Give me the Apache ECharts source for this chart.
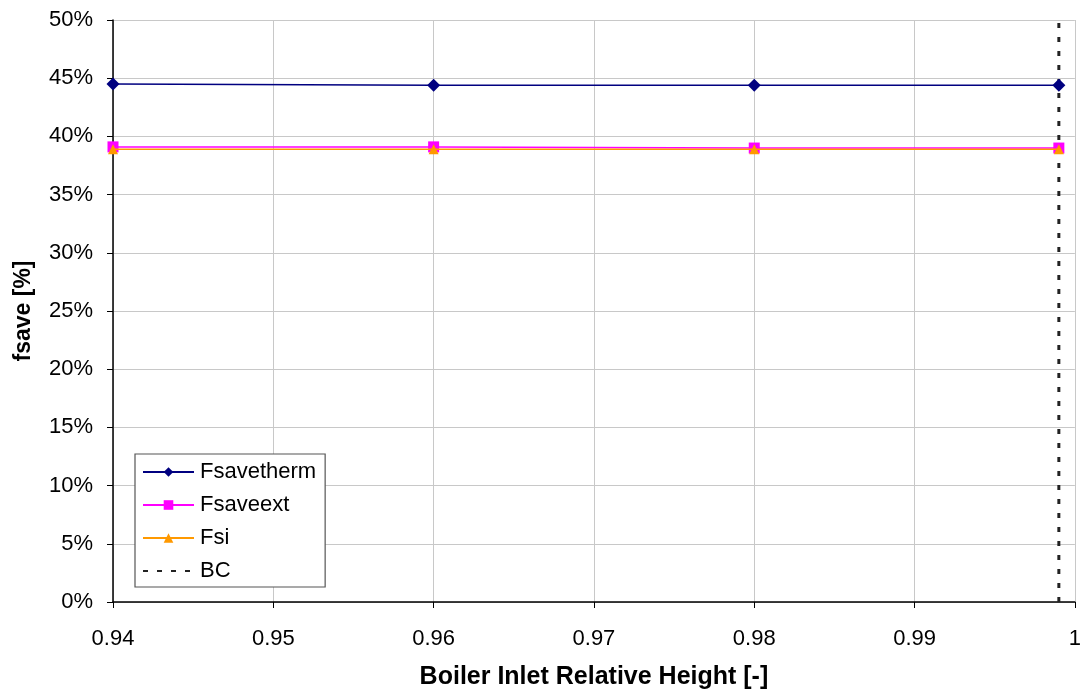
<!DOCTYPE html>
<html><head><meta charset="utf-8">
<script src="https://cdn.jsdelivr.net/npm/echarts@6/dist/echarts.min.js"></script>
<style>html,body{margin:0;padding:0;background:#fff}#c{width:1084px;height:695px}</style>
</head><body><div id="c"></div>
<script>
const xValues = [0.94, 0.96, 0.98, 0.999];
const fsavetherm = [44.5, 44.4, 44.4, 44.4];
const fsaveext = [39.1, 39.1, 39.0, 39.0];
const fsi = [38.9, 38.9, 38.9, 38.9];
const bcX = 0.999;
const bcY = [0, 50];
const legendNames = ['Fsavetherm', 'Fsaveext', 'Fsi', 'BC'];

const pair = (xs, ys) => xs.map((x, i) => [x, ys[i]]);
const font = 'Liberation Sans';
const chart = echarts.init(document.getElementById('c'), null, {renderer: 'canvas'});
chart.setOption({
  animation: false,
  backgroundColor: '#fff',
  textStyle: {fontFamily: font},
  grid: {left: 113, right: 8, top: 20, bottom: 92, containLabel: false},
  xAxis: {
    type: 'value', min: 0.94, max: 1, interval: 0.01,
    name: 'Boiler Inlet Relative Height [-]', nameLocation: 'middle', nameGap: 63,
    nameTextStyle: {fontFamily: font, fontWeight: 'bold', fontSize: 25, color: '#000'},
    axisLine: {onZero: false, lineStyle: {color: '#000', width: 1.5}},
    axisTick: {show: true, length: 6, lineStyle: {color: '#000'}},
    axisLabel: {fontSize: 22, fontFamily: font, color: '#000', margin: 26, formatter: v => String(+v.toFixed(2))},
    splitLine: {show: true, lineStyle: {color: '#c8c8c8', width: 1}}
  },
  yAxis: {
    type: 'value', min: 0, max: 50, interval: 5,
    name: 'fsave [%]', nameLocation: 'middle', nameGap: 78, nameRotate: 90,
    nameTextStyle: {fontFamily: font, fontWeight: 'bold', fontSize: 23, color: '#000'},
    axisLine: {show: true, lineStyle: {color: '#000', width: 1.5}},
    axisTick: {show: true, length: 6, lineStyle: {color: '#000'}},
    axisLabel: {fontSize: 22, fontFamily: font, color: '#000', margin: 20, formatter: '{value}%'},
    splitLine: {show: true, lineStyle: {color: '#c8c8c8', width: 1}}
  },
  legend: {
    orient: 'vertical', left: 135, top: 454,
    backgroundColor: '#fff', borderColor: '#555', borderWidth: 1.2, borderRadius: 0,
    padding: [7, 9, 5, 7], itemGap: 11, itemWidth: 51, itemHeight: 12,
    textStyle: {fontSize: 22, color: '#000', fontFamily: font, padding: [0, 0, 0, 1]},
    data: legendNames.map(n => n === 'BC' ? {name: n, itemStyle: {opacity: 0}} : {name: n})
  },
  series: [
    {name: 'Fsavetherm', type: 'line', data: pair(xValues, fsavetherm), symbol: 'diamond', symbolSize: 13,
     color: '#000080', lineStyle: {width: 1.5, color: '#000080'}, itemStyle: {color: '#000080'}, z: 5},
    {name: 'Fsaveext', type: 'line', data: pair(xValues, fsaveext), symbol: 'rect', symbolSize: 11,
     color: '#ff00ff', lineStyle: {width: 1.5, color: '#ff00ff'}, itemStyle: {color: '#ff00ff'}, z: 4},
    {name: 'Fsi', type: 'line', data: pair(xValues, fsi), symbol: 'triangle', symbolSize: 10,
     color: '#ff9900', lineStyle: {width: 1.5, color: '#ff9900'}, itemStyle: {color: '#ff9900'}, z: 6},
    {name: 'BC', type: 'line', data: bcY.map(y => [bcX, y]), symbol: 'none',
     color: '#222', lineStyle: {width: 3, color: '#222', type: [5, 9]}, z: 3}
  ]
});
</script></body></html>
